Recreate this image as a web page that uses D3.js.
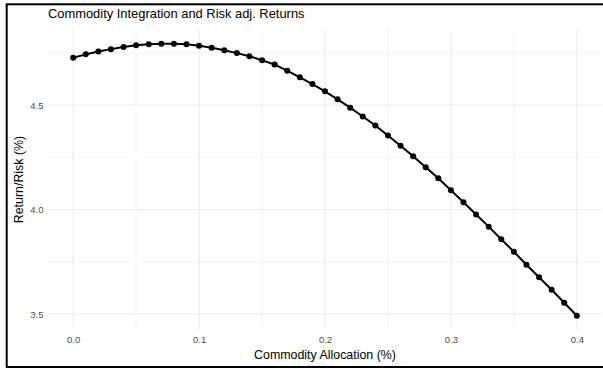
<!DOCTYPE html>
<html><head><meta charset="utf-8">
<script src="https://cdn.jsdelivr.net/npm/d3@7"></script>
<style>body{margin:0;background:#fff}svg{display:block;font-family:"Liberation Sans",Arial,sans-serif}</style>
</head><body><svg id="c" width="603" height="369"></svg>
<script>
const allocation = d3.range(0, 41).map(i => +(i / 100).toFixed(2));
const returnRisk = [4.726,4.742,4.756,4.767,4.777,4.785,4.790,4.793,4.793,4.790,
  4.783,4.774,4.762,4.748,4.733,4.714,4.693,4.664,4.632,4.600,
  4.565,4.527,4.487,4.445,4.402,4.354,4.305,4.255,4.202,4.149,
  4.092,4.035,3.976,3.918,3.858,3.798,3.736,3.676,3.616,3.554,3.492];
const xTicks = [0, 0.1, 0.2, 0.3, 0.4];
const xMinor = [0.05, 0.15, 0.25, 0.35];
const yTicks = [3.5, 4.0, 4.5];
const yMinor = [3.75, 4.25, 4.75];
const titleText = "Commodity Integration and Risk adj. Returns";
const xTitle = "Commodity Allocation (%)";
const yTitle = "Return/Risk (%)";

const svg = d3.select("#c");
const panel = {left: 48, right: 602, top: 30, bottom: 329};
const x = d3.scaleLinear().domain([-0.02, 0.42]).range([panel.left, panel.right]);
const y = d3.scaleLinear().domain([3.4285, 4.8585]).range([panel.bottom, panel.top]);

const g = svg.append("g");
g.selectAll(".xm").data(xMinor).join("line")
  .attr("x1", d => x(d)).attr("x2", d => x(d)).attr("y1", panel.top).attr("y2", panel.bottom)
  .attr("stroke", "#ebebeb").attr("stroke-width", 0.6);
g.selectAll(".ym").data(yMinor).join("line")
  .attr("y1", d => y(d)).attr("y2", d => y(d)).attr("x1", panel.left).attr("x2", panel.right)
  .attr("stroke", "#ebebeb").attr("stroke-width", 0.6);
g.selectAll(".xM").data(xTicks).join("line")
  .attr("x1", d => x(d)).attr("x2", d => x(d)).attr("y1", panel.top).attr("y2", panel.bottom)
  .attr("stroke", "#ebebeb").attr("stroke-width", 1.1);
g.selectAll(".yM").data(yTicks).join("line")
  .attr("y1", d => y(d)).attr("y2", d => y(d)).attr("x1", panel.left).attr("x2", panel.right)
  .attr("stroke", "#ebebeb").attr("stroke-width", 1.1);

const xAxis = d3.axisBottom(x).tickValues(xTicks).tickFormat(d3.format(".1f")).tickSize(0).tickPadding(0);
const gx = svg.append("g").attr("transform", `translate(0,${panel.bottom + 7})`).call(xAxis);
gx.select(".domain").remove();
gx.selectAll("text").attr("fill", "#4d4d4d").attr("font-size", 9.5).attr("font-family", "Liberation Sans, Arial, sans-serif");

const yAxis = d3.axisLeft(y).tickValues(yTicks).tickFormat(d3.format(".1f")).tickSize(0).tickPadding(0);
const gy = svg.append("g").attr("transform", `translate(${panel.left - 4.5},0)`).call(yAxis);
gy.select(".domain").remove();
gy.selectAll("text").attr("fill", "#4d4d4d").attr("font-size", 9.5).attr("font-family", "Liberation Sans, Arial, sans-serif");

const data = allocation.map((a, i) => ({a, v: returnRisk[i]}));
svg.append("path").datum(data)
  .attr("fill", "none").attr("stroke", "#000").attr("stroke-width", 2)
  .attr("d", d3.line().x(d => x(d.a)).y(d => y(d.v)));
svg.selectAll(".pt").data(data).join("circle")
  .attr("cx", d => x(d.a)).attr("cy", d => y(d.v)).attr("r", 3).attr("fill", "#000");

svg.append("text").attr("x", 48).attr("y", 18).attr("font-size", 12.9).attr("fill", "#000").text(titleText);
svg.append("text").attr("x", (panel.left + panel.right) / 2).attr("y", 359)
  .attr("text-anchor", "middle").attr("font-size", 12.4).attr("fill", "#000").text(xTitle);
svg.append("text").attr("transform", `translate(22.5,${(panel.top + panel.bottom) / 2}) rotate(-90)`)
  .attr("text-anchor", "middle").attr("font-size", 12.4).attr("fill", "#000").text(yTitle);

svg.append("rect").attr("x", 6.7).attr("y", 4.3).attr("width", 640).attr("height", 362.7)
  .attr("fill", "none").attr("stroke", "#000").attr("stroke-width", 2);
</script></body></html>
